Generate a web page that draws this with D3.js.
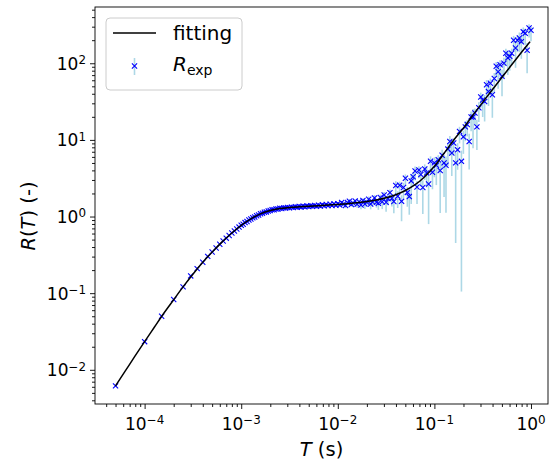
<!DOCTYPE html>
<html>
<head>
<meta charset="utf-8">
<script src="https://cdn.jsdelivr.net/npm/d3@7"></script>
<style>
  body { margin: 0; background: #fff; }
  svg { display: block; font-family: "DejaVu Sans", sans-serif; }
</style>
</head>
<body>
<svg id="chart" width="550" height="461"></svg>
<script>
// ---- measured R(T): window length T (s), ratio R, relative error below / above ----

// short windows (multiples of the 50 µs sample step)
const tLow = [5e-5, 1e-4, 1.5e-4, 2e-4, 2.5e-4, 3e-4, 3.5e-4, 4e-4, 4.5e-4, 5e-4,
  5.5e-4, 6e-4, 6.5e-4, 7e-4, 7.5e-4, 8e-4, 8.5e-4, 9e-4, 9.5e-4];
const rLow = [0.00617, 0.0233, 0.050, 0.0826, 0.1208, 0.168, 0.209, 0.2529, 0.302, 0.3443,
  0.388, 0.4345, 0.4797, 0.5224, 0.5662, 0.6095, 0.6486, 0.6887, 0.7278];
const loLow = [0.02, 0.01, 0.01, 0.008, 0.008, 0.006, 0.006, 0.005, 0.005, 0.005,
  0.005, 0.004, 0.004, 0.004, 0.004, 0.004, 0.004, 0.004, 0.004];
const hiLow = [0.02, 0.01, 0.01, 0.008, 0.008, 0.006, 0.006, 0.005, 0.005, 0.005,
  0.005, 0.004, 0.004, 0.004, 0.004, 0.004, 0.004, 0.004, 0.004];

// 1 ms .. 10 ms
const tMs = [1.000e-3, 1.047e-3, 1.096e-3, 1.148e-3, 1.202e-3, 1.259e-3, 1.318e-3, 1.380e-3, 1.445e-3, 1.514e-3,
  1.585e-3, 1.660e-3, 1.738e-3, 1.820e-3, 1.905e-3, 1.995e-3, 2.089e-3, 2.188e-3, 2.291e-3, 2.399e-3,
  2.512e-3, 2.630e-3, 2.754e-3, 2.884e-3, 3.020e-3, 3.162e-3, 3.311e-3, 3.467e-3, 3.631e-3, 3.802e-3,
  3.981e-3, 4.169e-3, 4.365e-3, 4.571e-3, 4.786e-3, 5.012e-3, 5.248e-3, 5.495e-3, 5.754e-3, 6.026e-3,
  6.310e-3, 6.607e-3, 6.918e-3, 7.244e-3, 7.586e-3, 7.943e-3, 8.318e-3, 8.710e-3, 9.120e-3, 9.550e-3];
const rMs = [0.770, 0.795, 0.833, 0.860, 0.902, 0.930, 0.966, 0.987, 1.025, 1.048,
  1.089, 1.102, 1.136, 1.149, 1.183, 1.196, 1.224, 1.226, 1.251, 1.254,
  1.280, 1.275, 1.297, 1.290, 1.313, 1.304, 1.327, 1.316, 1.339, 1.325,
  1.352, 1.333, 1.362, 1.343, 1.374, 1.350, 1.385, 1.358, 1.396, 1.364,
  1.405, 1.370, 1.420, 1.380, 1.436, 1.388, 1.447, 1.395, 1.462, 1.405];
const loMs = [0.004, 0.005, 0.004, 0.006, 0.005, 0.004, 0.006, 0.005, 0.006, 0.005,
  0.006, 0.007, 0.006, 0.008, 0.006, 0.007, 0.008, 0.007, 0.009, 0.008,
  0.008, 0.010, 0.009, 0.011, 0.010, 0.012, 0.010, 0.013, 0.011, 0.012,
  0.014, 0.012, 0.016, 0.013, 0.017, 0.015, 0.018, 0.016, 0.020, 0.018,
  0.022, 0.020, 0.025, 0.021, 0.027, 0.024, 0.030, 0.026, 0.033, 0.028];
const hiMs = [0.004, 0.005, 0.004, 0.006, 0.005, 0.004, 0.006, 0.005, 0.006, 0.005,
  0.006, 0.007, 0.006, 0.008, 0.006, 0.007, 0.008, 0.007, 0.009, 0.008,
  0.008, 0.010, 0.009, 0.011, 0.010, 0.012, 0.010, 0.013, 0.011, 0.012,
  0.014, 0.012, 0.016, 0.013, 0.017, 0.015, 0.018, 0.016, 0.020, 0.018,
  0.022, 0.020, 0.025, 0.021, 0.027, 0.024, 0.030, 0.026, 0.033, 0.028];

// 10 ms .. 100 ms
const tCs = [1.000e-2, 1.047e-2, 1.096e-2, 1.148e-2, 1.202e-2, 1.259e-2, 1.318e-2, 1.380e-2, 1.445e-2, 1.514e-2,
  1.585e-2, 1.660e-2, 1.738e-2, 1.820e-2, 1.905e-2, 1.995e-2, 2.089e-2, 2.188e-2, 2.291e-2, 2.399e-2,
  2.512e-2, 2.630e-2, 2.754e-2, 2.884e-2, 3.020e-2, 3.162e-2, 3.311e-2, 3.467e-2, 3.631e-2, 3.802e-2,
  3.981e-2, 4.169e-2, 4.365e-2, 4.571e-2, 4.786e-2, 5.012e-2, 5.248e-2, 5.495e-2, 5.754e-2, 6.026e-2,
  6.310e-2, 6.607e-2, 6.918e-2, 7.244e-2, 7.586e-2, 7.943e-2, 8.318e-2, 8.710e-2, 9.120e-2, 9.550e-2];
const rCs = [1.472, 1.413, 1.521, 1.455, 1.396, 1.521, 1.585, 1.435, 1.496, 1.592,
  1.445, 1.560, 1.416, 1.622, 1.455, 1.535, 1.679, 1.459, 1.545, 1.750,
  1.538, 1.489, 1.774, 1.563, 1.905, 1.535, 1.714, 2.051, 1.734, 1.574,
  2.541, 1.845, 2.553, 1.578, 2.393, 3.162, 2.065, 1.820, 2.917, 3.311,
  3.936, 2.432, 4.046, 3.532, 2.393, 4.169, 3.690, 2.655, 5.260, 3.784];
const loCs = [0.06, 0.05, 0.07, 0.06, 0.08, 0.07, 0.08, 0.06, 0.09, 0.08,
  0.10, 0.09, 0.12, 0.10, 0.14, 0.11, 0.13, 0.15, 0.12, 0.14,
  0.15, 0.18, 0.14, 0.20, 0.16, 0.25, 0.18, 0.17, 0.22, 0.30,
  0.25, 0.30, 0.22, 0.45, 0.28, 0.20, 0.35, 0.42, 0.50, 0.25,
  0.25, 0.40, 0.22, 0.30, 0.55, 0.28, 0.35, 0.70, 0.30, 0.40];
const hiCs = [0.05, 0.04, 0.05, 0.05, 0.06, 0.05, 0.06, 0.05, 0.06, 0.06,
  0.07, 0.06, 0.08, 0.07, 0.09, 0.08, 0.09, 0.10, 0.08, 0.09,
  0.10, 0.11, 0.09, 0.12, 0.10, 0.14, 0.11, 0.10, 0.13, 0.16,
  0.14, 0.16, 0.12, 0.20, 0.15, 0.12, 0.18, 0.18, 0.22, 0.14,
  0.14, 0.20, 0.12, 0.16, 0.24, 0.15, 0.18, 0.28, 0.16, 0.20];

// 100 ms .. 1 s
const tDs = [0.1000, 0.1047, 0.1096, 0.1148, 0.1202, 0.1259, 0.1318, 0.1380, 0.1445, 0.1514,
  0.1585, 0.1660, 0.1738, 0.1820, 0.1905, 0.1995, 0.2089, 0.2188, 0.2291, 0.2399,
  0.2512, 0.2630, 0.2754, 0.2884, 0.3020, 0.3162, 0.3311, 0.3467, 0.3631, 0.3802,
  0.3981, 0.4169, 0.4365, 0.4571, 0.4786, 0.5012, 0.5248, 0.5495, 0.5754, 0.6026,
  0.6310, 0.6607, 0.6918, 0.7244, 0.7586, 0.7943, 0.8318, 0.8710, 0.9120, 0.9550, 1.0];
const rDs = [5.012, 4.677, 5.495, 3.981, 6.310, 5.012, 4.677, 7.586, 9.550, 6.761,
  9.120, 5.012, 7.413, 12.88, 5.248, 10.96, 14.79, 15.85, 9.550, 19.95,
  19.95, 22.39, 14.79, 26.30, 36.31, 33.11, 31.62, 52.48, 42.66, 54.95,
  38.90, 63.10, 91.20, 77.62, 95.50, 67.61, 100.0, 134.9, 117.5, 123.0,
  134.9, 199.5, 158.5, 199.5, 213.8, 190.5, 257.0, 245.5, 147.9, 288.4, 269.2];
const loDs = [0.35, 0.45, 0.30, 0.72, 0.35, 0.64, 0.76, 0.40, 0.35, 0.50,
  0.30, 0.91, 0.45, 0.30, 0.98, 0.40, 0.35, 0.30, 0.57, 0.35,
  0.61, 0.30, 0.50, 0.35, 0.28, 0.40, 0.45, 0.30, 0.35, 0.30,
  0.50, 0.35, 0.28, 0.40, 0.30, 0.45, 0.35, 0.30, 0.40, 0.35,
  0.30, 0.28, 0.45, 0.30, 0.35, 0.40, 0.28, 0.30, 0.50, 0.25, 0.28];
const hiDs = [0.18, 0.22, 0.15, 0.30, 0.18, 0.28, 0.30, 0.20, 0.18, 0.24,
  0.15, 0.35, 0.22, 0.15, 0.38, 0.20, 0.18, 0.15, 0.26, 0.18,
  0.27, 0.15, 0.24, 0.18, 0.14, 0.20, 0.22, 0.15, 0.18, 0.15,
  0.24, 0.18, 0.14, 0.20, 0.15, 0.22, 0.18, 0.15, 0.20, 0.18,
  0.15, 0.14, 0.22, 0.15, 0.18, 0.20, 0.14, 0.15, 0.24, 0.12, 0.10];

// fitted model R(T), sampled along T
const fitT = [5.0e-5, 6.31e-5, 7.94e-5, 1.0e-4, 1.26e-4, 1.58e-4, 2.0e-4, 2.51e-4, 3.16e-4, 3.98e-4,
  5.01e-4, 6.31e-4, 7.94e-4, 1.0e-3, 1.26e-3, 1.58e-3, 2.0e-3, 2.51e-3, 3.16e-3, 3.98e-3,
  5.01e-3, 6.31e-3, 7.94e-3, 1.0e-2, 1.26e-2, 1.58e-2, 2.0e-2, 2.51e-2, 3.16e-2, 3.98e-2,
  5.01e-2, 6.31e-2, 7.94e-2, 0.1, 0.126, 0.158, 0.2, 0.251, 0.316, 0.398,
  0.501, 0.631, 0.794, 0.977];
const fitR = [0.00617, 0.00966, 0.01507, 0.02333, 0.03589, 0.05470, 0.08222, 0.1216, 0.1770, 0.2512,
  0.3451, 0.4634, 0.6053, 0.7674, 0.9333, 1.084, 1.202, 1.274, 1.312, 1.340,
  1.365, 1.387, 1.413, 1.439, 1.469, 1.514, 1.570, 1.648, 1.762, 1.928,
  2.188, 2.600, 3.311, 4.519, 6.683, 9.886, 14.29, 21.13, 30.90, 45.19,
  65.77, 95.50, 138.0, 191.4];

// axis decades that carry labels
const xMajor = [1e-4, 1e-3, 1e-2, 1e-1, 1e0];
const yMajor = [1e-2, 1e-1, 1e0, 1e1, 1e2];

// ---- layout ----
const svg = d3.select("#chart");
const plot = { left: 95, right: 548, top: 7, bottom: 404 };
const x = d3.scaleLog().domain([3.064e-5, 1.50]).range([plot.left, plot.right]);
const y = d3.scaleLog().domain([3.58e-3, 542]).range([plot.bottom, plot.top]);

const T = [].concat(tLow, tMs, tCs, tDs);
const R = [].concat(rLow, rMs, rCs, rDs);
const LO = [].concat(loLow, loMs, loCs, loDs);
const HI = [].concat(hiLow, hiMs, hiCs, hiDs);
const points = T.map((t, i) => ({ t, r: R[i], lo: R[i] * (1 - LO[i]), hi: R[i] * (1 + HI[i]) }));

svg.append("clipPath").attr("id", "clip").append("rect")
  .attr("x", plot.left).attr("y", plot.top)
  .attr("width", plot.right - plot.left).attr("height", plot.bottom - plot.top);

const body = svg.append("g").attr("clip-path", "url(#clip)");

// error bars
body.append("g").selectAll("line").data(points).join("line")
  .attr("x1", d => x(d.t)).attr("x2", d => x(d.t))
  .attr("y1", d => y(Math.max(d.lo, 1e-6))).attr("y2", d => y(d.hi))
  .attr("stroke", "#add8e6").attr("stroke-width", 1.6);

// markers
const cross = "M-2.6,-2.6L2.6,2.6M-2.6,2.6L2.6,-2.6";
body.append("g").selectAll("path").data(points).join("path")
  .attr("transform", d => `translate(${x(d.t)},${y(d.r)})`)
  .attr("d", cross)
  .attr("fill", "none").attr("stroke", "#0000ff").attr("stroke-width", 1.1);

// fitted curve
const fitPts = fitT.map((t, i) => [x(t), y(fitR[i])]);
body.append("path")
  .attr("d", d3.line().curve(d3.curveMonotoneX)(fitPts))
  .attr("fill", "none").attr("stroke", "#000").attr("stroke-width", 1.5);

// ---- axes ----
const isDecade = v => Math.abs(Math.log10(v) - Math.round(Math.log10(v))) < 1e-9;
const xMinor = x.ticks().filter(v => !isDecade(v));
const yMinor = y.ticks().filter(v => !isDecade(v));

function styleAxis(g) {
  g.select(".domain").remove();
  g.selectAll(".tick line").attr("stroke", "#000").attr("stroke-width", 0.9);
  g.selectAll(".tick text").remove();
}

svg.append("g").attr("transform", `translate(0,${plot.bottom})`)
  .call(d3.axisBottom(x).tickValues(xMajor).tickSize(5).tickFormat(""))
  .call(styleAxis);
svg.append("g").attr("transform", `translate(0,${plot.bottom})`)
  .call(d3.axisBottom(x).tickValues(xMinor).tickSize(3).tickFormat(""))
  .call(styleAxis);
svg.append("g").attr("transform", `translate(${plot.left},0)`)
  .call(d3.axisLeft(y).tickValues(yMajor).tickSize(5).tickFormat(""))
  .call(styleAxis);
svg.append("g").attr("transform", `translate(${plot.left},0)`)
  .call(d3.axisLeft(y).tickValues(yMinor).tickSize(3).tickFormat(""))
  .call(styleAxis);

// frame
svg.append("rect")
  .attr("x", plot.left).attr("y", plot.top)
  .attr("width", plot.right - plot.left).attr("height", plot.bottom - plot.top)
  .attr("fill", "none").attr("stroke", "#000").attr("stroke-width", 0.9);

function powerLabel(text, v) {
  const e = Math.round(Math.log10(v));
  text.append("tspan").text("10");
  text.append("tspan").attr("dy", "-0.48em").attr("font-size", "0.7em")
    .text(e < 0 ? "\u2212" + (-e) : String(e));
}

svg.append("g").selectAll("text").data(xMajor).join("text")
  .attr("x", d => x(d)).attr("y", 430)
  .attr("text-anchor", "middle").attr("font-size", 17).attr("fill", "#000")
  .each(function (d) { powerLabel(d3.select(this), d); });

svg.append("g").selectAll("text").data(yMajor).join("text")
  .attr("x", 86).attr("y", d => y(d) + 6.5)
  .attr("text-anchor", "end").attr("font-size", 17).attr("fill", "#000")
  .each(function (d) { powerLabel(d3.select(this), d); });

// axis titles
const xt = svg.append("text").attr("x", (plot.left + plot.right) / 2).attr("y", 456)
  .attr("text-anchor", "middle").attr("font-size", 19.5).attr("fill", "#000");
xt.append("tspan").attr("font-style", "italic").text("T");
xt.append("tspan").text(" (s)");

const yt = svg.append("text")
  .attr("transform", "translate(35,216) rotate(-90)")
  .attr("text-anchor", "middle").attr("font-size", 19.5).attr("fill", "#000");
yt.append("tspan").attr("font-style", "italic").text("R");
yt.append("tspan").text("(");
yt.append("tspan").attr("font-style", "italic").text("T");
yt.append("tspan").text(") (-)");

// ---- legend ----
const lg = svg.append("g");
lg.append("rect").attr("x", 106).attr("y", 18).attr("width", 136).attr("height", 72)
  .attr("rx", 4).attr("fill", "#fff").attr("fill-opacity", 0.8)
  .attr("stroke", "#cccccc").attr("stroke-width", 1);
lg.append("line").attr("x1", 113).attr("x2", 156).attr("y1", 33).attr("y2", 33)
  .attr("stroke", "#000").attr("stroke-width", 1.5);
lg.append("text").attr("x", 173).attr("y", 40).attr("font-size", 20).attr("fill", "#000").text("fitting");
lg.append("line").attr("x1", 134.5).attr("x2", 134.5).attr("y1", 58).attr("y2", 75)
  .attr("stroke", "#add8e6").attr("stroke-width", 1.6);
lg.append("path").attr("transform", "translate(134.5,66)").attr("d", cross)
  .attr("fill", "none").attr("stroke", "#0000ff").attr("stroke-width", 1.1);
const rl = lg.append("text").attr("x", 173).attr("y", 71).attr("font-size", 20).attr("fill", "#000");
rl.append("tspan").attr("font-style", "italic").text("R");
rl.append("tspan").attr("dy", 4).attr("font-size", 14).text("exp");
</script>
</body>
</html>
